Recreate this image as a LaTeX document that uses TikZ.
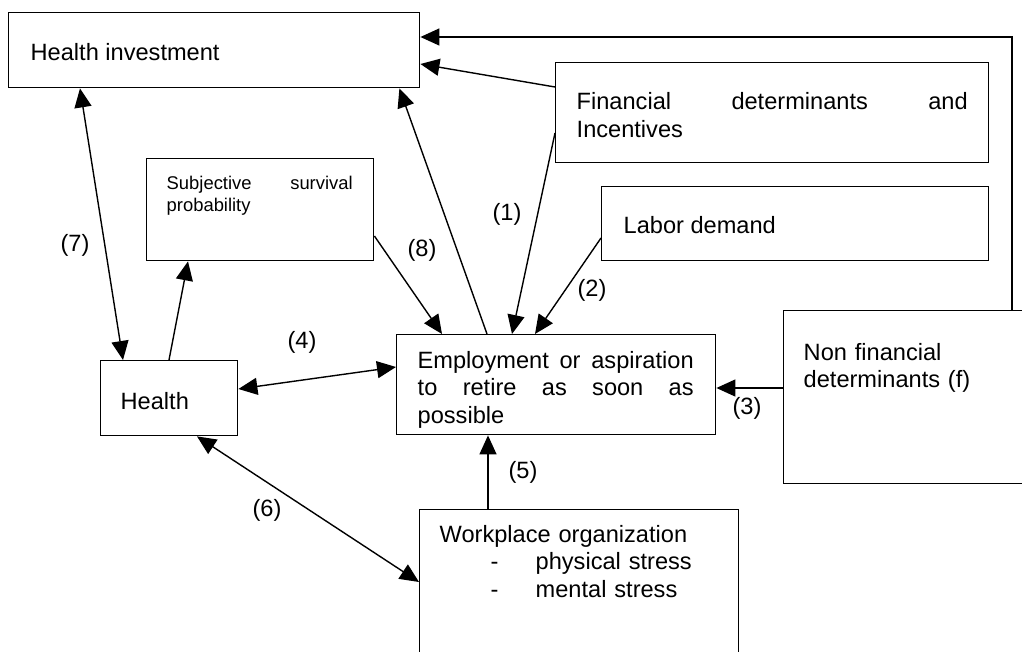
\documentclass[tikz,border=0pt]{standalone}
\usepackage{fontspec}
\setmainfont{Liberation Sans}
\usetikzlibrary{arrows.meta,positioning}

\tikzset{
  box/.style={draw,line width=1.4pt,inner sep=0pt,anchor=north west},
  txt/.style={anchor=base west,inner sep=0pt,font=\fontsize{23.6}{27.5}\selectfont,align=left},
  small/.style={font=\fontsize{18.4}{22}\selectfont},
  lbl/.style={inner sep=0pt,font=\fontsize{23.6}{27.5}\selectfont},
}

\begin{document}
\begin{tikzpicture}[x=1pt,y=-1pt,>={Triangle[length=19pt,width=17pt]},line width=1.4pt]
  \useasboundingbox (0,0) rectangle (1022,652);
  \clip (0,0) rectangle (1022,652);

  % boxes
  \node[box,minimum width=411pt,minimum height=75pt] (hinv) at (8,12) {};
  \node[box,minimum width=433pt,minimum height=100pt] (fin) at (555,62) {};
  \node[box,minimum width=387pt,minimum height=74pt] (labor) at (601,186) {};
  \node[box,minimum width=227pt,minimum height=102pt] (subj) at (146,158) {};
  \node[box,minimum width=319pt,minimum height=100pt] (emp) at (396,334) {};
  \node[box,minimum width=137pt,minimum height=75pt] (health) at (100,360) {};
  \node[box,minimum width=270pt,minimum height=173pt] (nonfin) at (783,310) {};
  \node[box,minimum width=319pt,minimum height=170pt] (work) at (419,509) {};

  % texts
  \node[txt] (hinvtxt) at ([shift={(22,49)}]hinv.north west) {Health investment};
  \node[txt,text width=391pt,align=justify] (fintxt) at ([shift={(21,48)}]fin.north west)
    {Financial\hfill determinants\hfill and\\Incentives};
  \node[txt] (labortxt) at ([shift={(22,48)}]labor.north west) {Labor demand};
  \node[txt,small,text width=186pt,align=justify] (subjtxt) at ([shift={(20,32)}]subj.north west)
    {Subjective\hfill survival\\probability};
  \node[txt,text width=276pt,align=justify] (emptxt) at ([shift={(21,34)}]emp.north west)
    {Employment\hfill or\hfill aspiration\\to\hfill retire\hfill as\hfill soon\hfill as\\possible};
  \node[txt] (healthtxt) at ([shift={(20,49)}]health.north west) {Health};
  \node[txt,text width=220pt] (nonfintxt) at ([shift={(20,50)}]nonfin.north west)
    {Non financial\\determinants (f)};
  \node[txt,text width=290pt] (worktxt) at ([shift={(20,33)}]work.north west)
    {Workplace organization\\
     \hspace*{51pt}\makebox[45pt][l]{-}physical stress\\
     \hspace*{51pt}\makebox[45pt][l]{-}mental stress};

  % connectors
  \draw[->] ([shift={(0,25)}]fin.north west) -- ([shift={(0,52)}]hinv.north east);
  \draw[->] ([shift={(229,0)}]nonfin.north west) |- ([shift={(0,25)}]hinv.north east);
  \draw[<->] ([shift={(72,0)}]hinv.south west) -- ([shift={(23,0)}]health.north west);
  \draw[->] ([shift={(91,0)}]emp.north west) -- ([shift={(-21,0)}]hinv.south east);
  \draw[->] ([shift={(0,71)}]fin.north west) -- ([shift={(116,0)}]emp.north west);
  \draw[->] ([shift={(0,52)}]labor.north west) -- ([shift={(139,0)}]emp.north west);
  \draw[->] ([shift={(0,78)}]subj.north east) -- ([shift={(46,0)}]emp.north west);
  \draw[->] ([shift={(69,0)}]health.north west) -- ([shift={(42,0)}]subj.south west);
  \draw[<->] ([shift={(0,29)}]health.north east) -- ([shift={(0,33)}]emp.north west);
  \draw[->] ([shift={(0,78)}]nonfin.north west) -- ([shift={(0,54)}]emp.north east);
  \draw[->] ([shift={(69,0)}]work.north west) -- ([shift={(92,0)}]emp.south west);
  \draw[<->] ([shift={(97,0)}]health.south west) -- ([shift={(0,73)}]work.north west);

  % labels
  \node[lbl] (l1) at (507,214) {(1)};
  \node[lbl] (l2) at (592,290) {(2)};
  \node[lbl] (l3) at (747,408) {(3)};
  \node[lbl] (l4) at (302,342) {(4)};
  \node[lbl] (l5) at (523,472) {(5)};
  \node[lbl] (l6) at (267,510) {(6)};
  \node[lbl] (l7) at (75,245) {(7)};
  \node[lbl] (l8) at (422,250) {(8)};

\end{tikzpicture}
\end{document}
